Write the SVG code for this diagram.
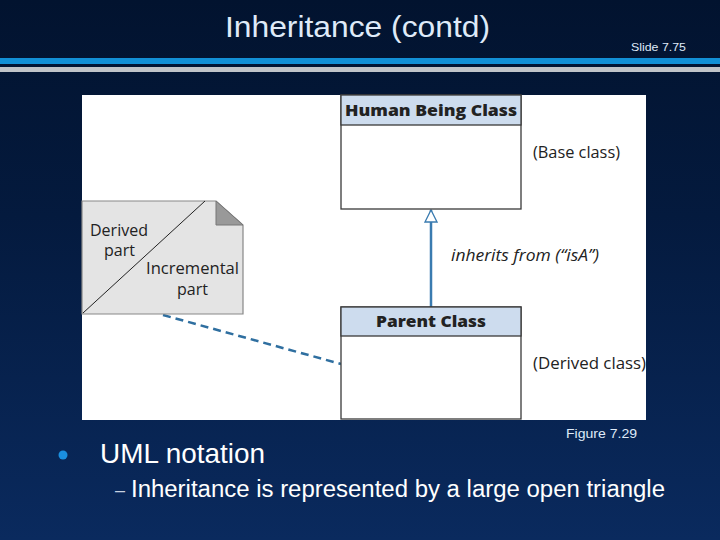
<svg xmlns="http://www.w3.org/2000/svg" width="720" height="540" viewBox="0 0 720 540">
<defs>
<linearGradient id="bg" x1="0" y1="0" x2="0" y2="1">
<stop offset="0" stop-color="#02132f"/>
<stop offset="0.4" stop-color="#041a3e"/>
<stop offset="1" stop-color="#0a2a5e"/>
</linearGradient>
<marker id="tri" viewBox="0 0 14 14" refX="13" refY="7" markerWidth="14" markerHeight="14" markerUnits="userSpaceOnUse" orient="auto">
<path d="M1,1 L13,7 L1,13 Z" fill="#fff" stroke="#3a7bb0" stroke-width="1.3"/>
</marker>
<style>
.sans{font-family:"Liberation Sans",Arial,sans-serif}
.fig{font-family:"Open Sans","Noto Sans",sans-serif;fill:#222}
.hdr{fill:#cddcee;stroke:#3a3a3a;stroke-width:1.3}
.body{fill:#fff;stroke:#3a3a3a;stroke-width:1.3}
.bold{font-weight:800;font-size:16px}
</style>
</defs>
<rect width="720" height="540" fill="url(#bg)"/>
<rect x="0" y="58" width="720" height="6" fill="#1290d6"/>
<rect x="0" y="67" width="720" height="5" fill="#c0c4c8"/>
<text class="sans" x="225" y="37" font-size="30" fill="#dfeaf8" textLength="265" lengthAdjust="spacingAndGlyphs">Inheritance (contd)</text>
<text class="sans" x="631" y="51" font-size="11.5" fill="#dfeaf8" textLength="55" lengthAdjust="spacingAndGlyphs">Slide 7.75</text>

<rect x="82" y="95" width="564" height="325" fill="#fff"/>

<g id="connectors">
<line x1="431" y1="307" x2="431" y2="210" stroke="#3a7bb0" stroke-width="2.5" marker-end="url(#tri)"/>
<line x1="163" y1="315" x2="341" y2="364" stroke="#2f6fa0" stroke-width="2.5" stroke-dasharray="8,5"/>
</g>

<g id="human">
<rect class="body" x="341" y="95" width="180" height="114"/>
<rect class="hdr" x="341" y="95" width="180" height="30"/>
<text class="fig bold" x="345" y="116" textLength="172" lengthAdjust="spacingAndGlyphs">Human Being Class</text>
</g>
<text class="fig" x="533" y="158" font-size="16" textLength="87" lengthAdjust="spacingAndGlyphs">(Base class)</text>
<text class="fig" x="451" y="261" font-size="16" font-style="italic" textLength="148" lengthAdjust="spacingAndGlyphs">inherits from (“isA”)</text>

<g id="parent">
<rect class="body" x="341" y="307" width="180" height="112"/>
<rect class="hdr" x="341" y="307" width="180" height="29"/>
<text class="fig bold" x="376" y="327" textLength="110" lengthAdjust="spacingAndGlyphs">Parent Class</text>
</g>
<text class="fig" x="533" y="369" font-size="16" textLength="113" lengthAdjust="spacingAndGlyphs">(Derived class)</text>

<g id="note">
<path d="M82,201 L216,201 L243,225 L243,314 L82,314 Z" fill="#e4e4e4" stroke="#888" stroke-width="1.2"/>
<path d="M216,201 L216,225 L243,225 Z" fill="#999" stroke="#777" stroke-width="1"/>
<line x1="83" y1="313" x2="205" y2="201" stroke="#222" stroke-width="1"/>
<text class="fig" x="90" y="236" font-size="16">Derived</text>
<text class="fig" x="104" y="256" font-size="16">part</text>
<text class="fig" x="146" y="274" font-size="16" textLength="93" lengthAdjust="spacingAndGlyphs">Incremental</text>
<text class="fig" x="177" y="295" font-size="16">part</text>
</g>

<text class="sans" x="566" y="438" font-size="13.5" fill="#dfeaf8" textLength="71" lengthAdjust="spacingAndGlyphs">Figure 7.29</text>
<circle cx="63" cy="455" r="4.5" fill="#1a8fe0"/>
<text class="sans" x="100" y="463" font-size="27.5" fill="#fff" textLength="165" lengthAdjust="spacingAndGlyphs">UML notation</text>
<text class="sans" x="115" y="496" font-size="18" fill="#c8d2e0">–</text>
<text class="sans" x="131" y="497" font-size="23" fill="#fff" textLength="534" lengthAdjust="spacingAndGlyphs">Inheritance is represented by a large open triangle</text>
</svg>
